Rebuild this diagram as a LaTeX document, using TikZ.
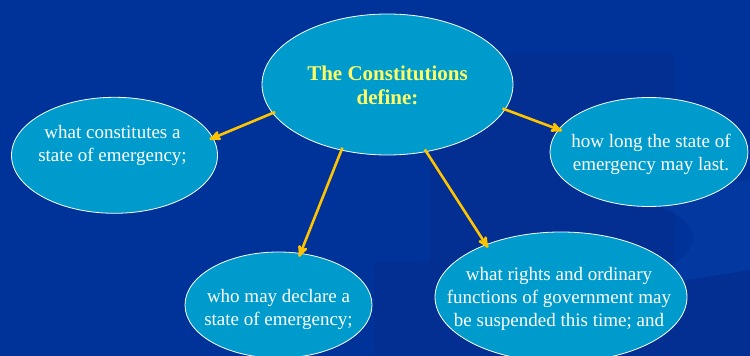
\documentclass[tikz,border=0pt]{standalone}
\usepackage{fontspec}
\setmainfont{Liberation Serif}
\usepackage{tikz}
\usetikzlibrary{arrows, shapes.geometric}

\definecolor{slide}{RGB}{0,51,153}
\definecolor{slidedark}{RGB}{2,47,145}
\definecolor{slidelight}{RGB}{3,56,160}
\definecolor{bubblefill}{RGB}{0,155,205}
\definecolor{gold}{RGB}{255,196,0}
\definecolor{titletext}{RGB}{255,255,102}

\tikzset{
	bubble/.style={ellipse, draw=white, line width=0.8pt, fill=bubblefill, inner sep=0pt},
	txt/.style={align=center, text=white, font=\fontsize{19}{23}\selectfont},
	head/.style={align=center, text=titletext, font=\fontsize{21}{24}\selectfont\bfseries}
}

\begin{document}
\begin{tikzpicture}[x=1pt, y=1pt,
			>=stealth',
			link/.style={->, draw=gold, line width=2.6pt, shorten <=-3pt, shorten >=-4pt}]
			
			% slide background
			\clip (0,0) rectangle (750,356);
			\fill[slide] (0,0) rectangle (750,356);
			\fill[slidedark] (430,94) rectangle (675,303);
			\fill[slidedark] (374,0) rectangle (750,94);
			\fill[slidelight] (560,56) .. controls (700,80) and (740,130) .. (630,160) -- (750,176) -- (750,86) -- cycle;
			\fill[slidedark] (543,153) .. controls (690,150) and (735,110) .. (560,76) -- (543,76) -- cycle;
			
			% bubbles
			\node[bubble, minimum width=251pt, minimum height=141pt] (c) at (387.5,271.5) {};
			\node[bubble, minimum width=206pt, minimum height=116pt] (l) at (114.5,200.7) {};
			\node[bubble, minimum width=198pt, minimum height=109pt] (r) at (649,204) {};
			\node[bubble, minimum width=187pt, minimum height=106pt] (bl) at (278.5,51) {};
			\node[bubble, minimum width=252pt, minimum height=130pt] (br) at (561,59) {};
			
			\node[head] (ct) at ([yshift=-1pt]c.center) {The Constitutions\\define:};
			\node[txt] (lt) at ([xshift=-2pt, yshift=10pt]l.center) {what constitutes a\\state of emergency;};
			\node[txt] (rt) at ([xshift=2pt, yshift=-2pt]r.center) {how long the state of\\emergency may last.};
			\node[txt] (blt) at ([yshift=-4pt]bl.center) {who may declare a\\state of emergency;};
			\node[txt] (brt) at ([xshift=-2pt, yshift=-1.5pt]br.center) {what rights and ordinary\\functions of government may\\be suspended this time; and};
			
			% arrows out of the middle
			\draw[link] (c.194.8) -- (l.10.6);
			\draw[link] (c.-12.1) -- (r.166.6);
			\draw[link] (c.235.3) -- (bl.67.6);
			\draw[link] (c.300.5) -- (br.145);
		\end{tikzpicture}
\end{document}
